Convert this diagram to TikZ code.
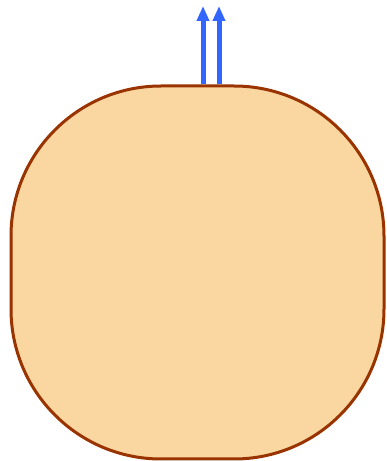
\documentclass[tikz,border=0pt]{standalone}
\usepackage{tikz}
\usetikzlibrary{arrows.meta, positioning}

\definecolor{potfill}{HTML}{FAD6A0}
\definecolor{potedge}{HTML}{993300}
\definecolor{flowblue}{HTML}{3366FF}

\begin{document}
\begin{tikzpicture}[x=1pt, y=1pt, >={Triangle[length=15pt, width=12pt]}]
    \useasboundingbox (0,0) rectangle (386,461);
    % Behaelter
    \node[draw=potedge, fill=potfill, line width=3pt, rounded corners=150pt,
          minimum width=373pt, minimum height=373pt, inner sep=0pt, outer sep=0pt]
          (pot) at (197.5,188.5) {};
    % Ausgaenge
    \coordinate (out1) at ([xshift=5.5pt]pot.north);
    \coordinate (out2) at ([xshift=21.5pt]pot.north);
    \coordinate (tip1) at ([yshift=80pt]out1);
    \coordinate (tip2) at ([yshift=80pt]out2);
    \draw[->, flowblue, line width=5pt, shorten <=1.5pt] (out1) -- (tip1);
    \draw[->, flowblue, line width=5pt, shorten <=1.5pt] (out2) -- (tip2);
\end{tikzpicture}
\end{document}
